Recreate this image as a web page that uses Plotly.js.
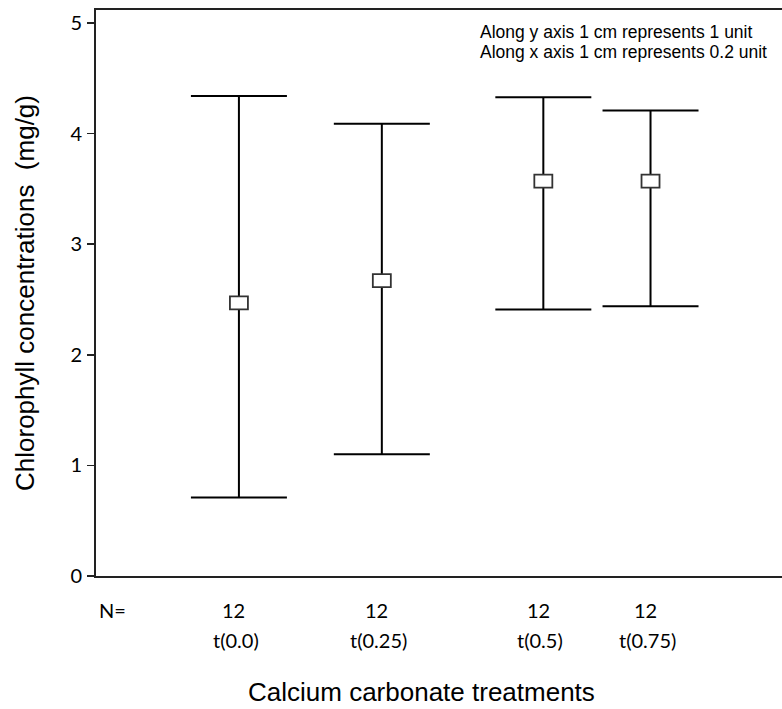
<!DOCTYPE html>
<html>
<head>
<meta charset="utf-8">
<script src="https://cdn.plot.ly/plotly-3.0.1.min.js"></script>
<style>html,body{margin:0;padding:0;background:#fff;}#chart{width:782px;height:709px;}</style>
</head>
<body>
<div id="chart"></div>
<script>
// Data
const treatments = ["t(0.0)", "t(0.25)", "t(0.5)", "t(0.75)"];
const xPos = [1.0, 2.0, 3.13, 3.88];          // position of each treatment along the x axis
const nCount = [12, 12, 12, 12];
const means = [2.47, 2.67, 3.57, 3.57];
const upper = [4.34, 4.09, 4.33, 4.21];
const lower = [0.71, 1.10, 2.41, 2.44];

const errPlus = means.map((m, i) => +(upper[i] - m).toFixed(3));
const errMinus = means.map((m, i) => +(m - lower[i]).toFixed(3));

const trace = {
  type: "scatter",
  mode: "markers",
  x: xPos,
  y: means,
  marker: {size: 2, color: "rgba(0,0,0,0)"},
  error_y: {
    type: "data",
    symmetric: false,
    array: errPlus,
    arrayminus: errMinus,
    color: "#000000",
    thickness: 2,
    width: 48
  },
  hoverinfo: "x+y",
  showlegend: false
};

// Rectangular mean markers (pixel-sized, anchored at data coordinates)
const shapes = xPos.map((x, i) => ({
  type: "rect",
  xref: "x", yref: "y",
  xsizemode: "pixel", ysizemode: "pixel",
  xanchor: x, yanchor: means[i],
  x0: -9, x1: 9, y0: -6.5, y1: 6.5,
  fillcolor: "#ffffff",
  line: {color: "#333333", width: 1.8},
  layer: "above"
}));

const labelFont = {family: "Lato, 'Open Sans', sans-serif", size: 20, color: "#000"};
const annotations = [];
annotations.push({
  text: "N=", xref: "paper", yref: "paper", x: 0, y: 0,
  xshift: 16, yshift: -34, xanchor: "center", yanchor: "middle",
  showarrow: false, font: labelFont
});
xPos.forEach((x, i) => {
  annotations.push({
    text: String(nCount[i]), xref: "x", yref: "paper", x: x, y: 0,
    xshift: -5, yshift: -34, xanchor: "center", yanchor: "middle",
    showarrow: false, font: labelFont
  });
  annotations.push({
    text: treatments[i], xref: "x", yref: "paper", x: x, y: 0,
    xshift: -3, yshift: -64, xanchor: "center", yanchor: "middle",
    showarrow: false, font: labelFont
  });
});
annotations.push({
  text: "Calcium carbonate treatments", xref: "paper", yref: "paper",
  x: 0, y: 0, xshift: 325, yshift: -132, xanchor: "center", yanchor: "bottom",
  borderpad: 0,
  showarrow: false, font: {family: "'Liberation Sans', Arial, sans-serif", size: 26, color: "#000"}
});
const noteFont = {family: "'Liberation Sans', Arial, sans-serif", size: 17.5, color: "#000"};
annotations.push({
  text: "Along y axis 1 cm represents 1 unit", xref: "paper", yref: "paper",
  x: 0, y: 1, xshift: 382, yshift: -22, xanchor: "left", yanchor: "middle",
  showarrow: false, font: noteFont
});
annotations.push({
  text: "Along x axis 1 cm represents 0.2 unit", xref: "paper", yref: "paper",
  x: 0, y: 1, xshift: 382, yshift: -42, xanchor: "left", yanchor: "middle",
  showarrow: false, font: noteFont
});

const layout = {
  width: 782, height: 709,
  margin: {l: 96, r: 0, t: 10, b: 133, pad: 0},
  paper_bgcolor: "#ffffff",
  plot_bgcolor: "#ffffff",
  showlegend: false,
  xaxis: {
    range: [0, 4.8],
    showgrid: false, zeroline: false,
    showticklabels: false, ticks: "",
    showline: true, linecolor: "#222222", linewidth: 2, mirror: true,
    fixedrange: true
  },
  yaxis: {
    range: [0, 5.118],
    tickvals: [0, 1, 2, 3, 4, 5],
    ticktext: ["0", "1", "2", "3", "4", "5"],
    showgrid: false, zeroline: false,
    ticks: "outside", ticklen: 7, tickwidth: 1.5, tickcolor: "#222222",
    ticklabelstandoff: 1,
    tickfont: labelFont,
    showline: true, linecolor: "#222222", linewidth: 2,
    title: {
      text: "Chlorophyll concentrations  (mg/g)",
      font: {family: "'Liberation Sans', Arial, sans-serif", size: 26, color: "#000"},
      standoff: 28
    },
    automargin: false,
    fixedrange: true
  },
  shapes: shapes,
  annotations: annotations
};

Plotly.newPlot("chart", [trace], layout, {displayModeBar: false, staticPlot: true});
</script>
</body>
</html>
